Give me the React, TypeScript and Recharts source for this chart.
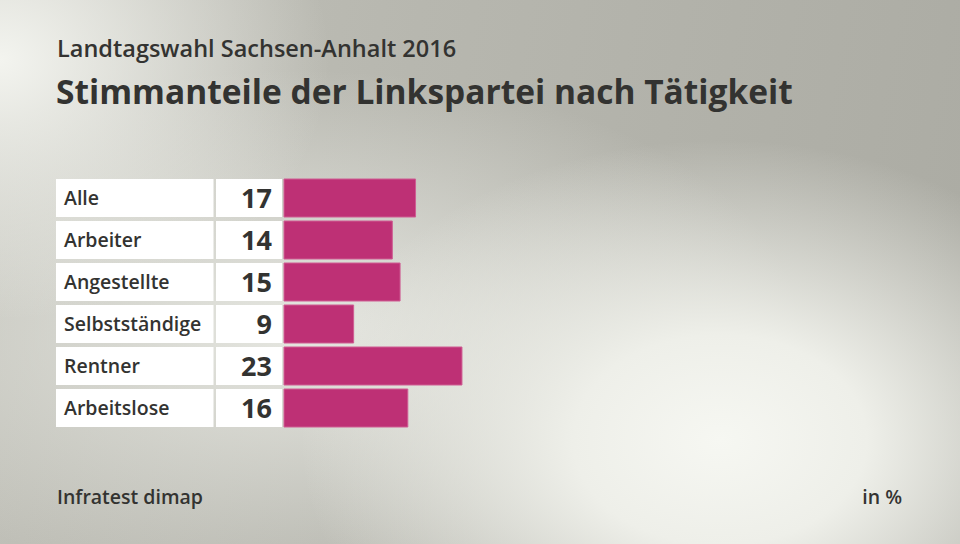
import { Bar, BarChart, XAxis, YAxis } from 'recharts';

const groups = ['Alle', 'Arbeiter', 'Angestellte', 'Selbstständige', 'Rentner', 'Arbeitslose'];
const shares = [17, 14, 15, 9, 23, 16];

const data = groups.map((name, i) => ({ name, value: shares[i] }));

const FONT = '"Open Sans", "Noto Sans", sans-serif';
const TEXT = '#333331';

const RowTick = (props: any) => {
  const { y, payload } = props;
  const i = payload.index;
  const top = y - 19;
  return (
    <g>
      <rect x={56} y={top} width={157.5} height={38} fill="#ffffff" />
      <rect x={216} y={top} width={66} height={38} fill="#ffffff" />
      <text x={64} y={y + 7} fontSize={19.5} fontWeight={600} fill={TEXT} fontFamily={FONT}>
        {payload.value}
      </text>
      <text x={272} y={y + 10} fontSize={27} fontWeight={700} fill={TEXT} textAnchor="end" fontFamily={FONT}>
        {shares[i]}
      </text>
    </g>
  );
};

const App = () => (
  <div
    style={{
      position: 'absolute',
      left: 0,
      top: 0,
      width: 960,
      height: 544,
      overflow: 'hidden',
      fontFamily: FONT,
      background:
        'radial-gradient(ellipse 420px 300px at 720px 440px, #f6f7f2 0%, #eeefe9 35%, rgba(238,239,233,0) 100%),' +
        'radial-gradient(ellipse 330px 260px at 0px 60px, #f3f4ef 0%, rgba(243,244,239,0) 100%),' +
        'radial-gradient(ellipse 500px 260px at 300px 330px, #e6e7e1 0%, rgba(230,231,225,0) 100%),' +
        'linear-gradient(100deg, #c2c2ba 0%, #b7b7af 40%, #ababa3 100%)',
    }}
  >
    <div style={{ position: 'absolute', left: 57, top: 32, fontSize: 23.5, fontWeight: 600, color: TEXT }}>
      Landtagswahl Sachsen-Anhalt 2016
    </div>
    <div style={{ position: 'absolute', left: 56, top: 68, fontSize: 33.5, fontWeight: 700, color: TEXT }}>
      Stimmanteile der Linkspartei nach Tätigkeit
    </div>
    <div style={{ position: 'absolute', left: 57, top: 483, fontSize: 19.5, fontWeight: 600, color: TEXT }}>
      Infratest dimap
    </div>
    <div style={{ position: 'absolute', right: 58, top: 483, fontSize: 19.5, fontWeight: 600, color: TEXT }}>
      in %
    </div>
    <BarChart
      width={960}
      height={544}
      data={data}
      layout="vertical"
      margin={{ top: 177, right: 57, bottom: 115, left: 56 }}
      barSize={38}
      style={{ position: 'absolute', left: 0, top: 0 }}
    >
      <XAxis type="number" domain={[0, 80]} hide />
      <YAxis
        type="category"
        dataKey="name"
        width={228}
        axisLine={false}
        tickLine={false}
        tick={<RowTick />}
        interval={0}
      />
      <Bar dataKey="value" fill="#be3075" stroke="#cf5c93" strokeWidth={1} isAnimationActive={false} />
    </BarChart>
  </div>
);

export default App;
